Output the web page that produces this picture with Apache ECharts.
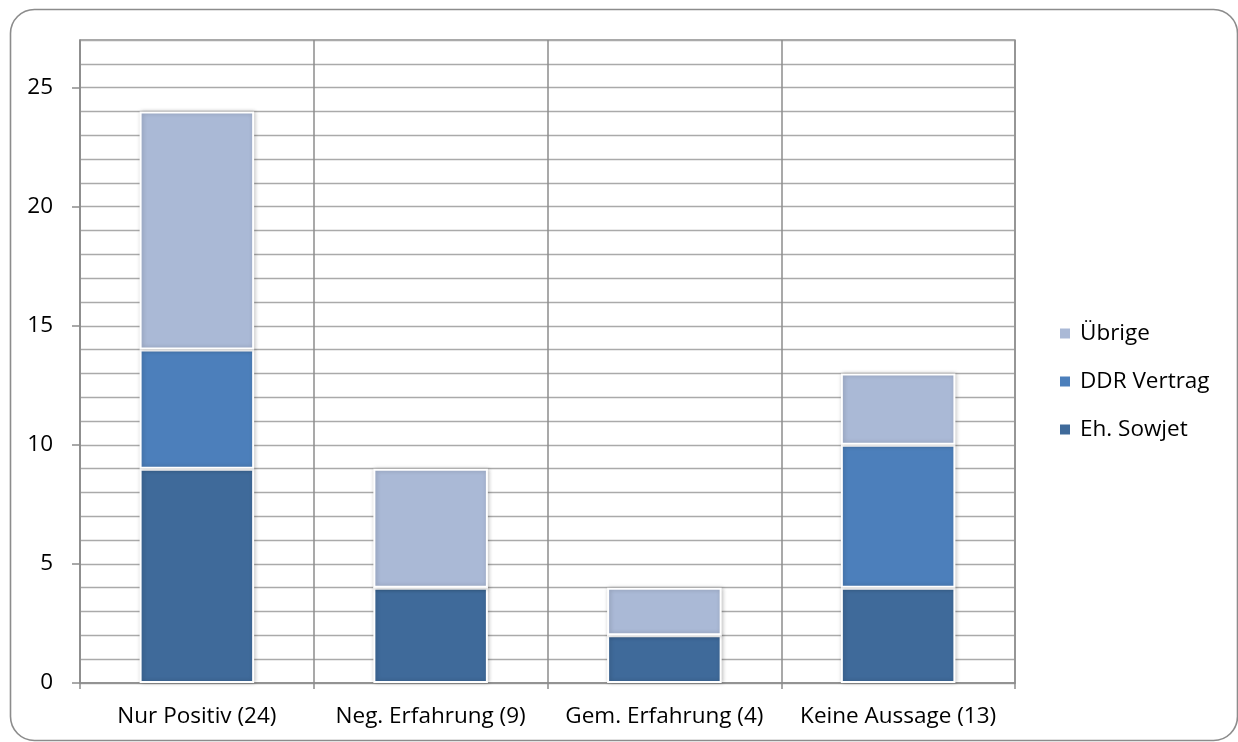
<!DOCTYPE html>
<html>
<head>
<meta charset="utf-8">
<script src="https://cdn.jsdelivr.net/npm/echarts@6/dist/echarts.min.js"></script>
<style>
  html, body { margin: 0; padding: 0; background: #fff; }
  #chart { width: 1238px; height: 742px; }
</style>
</head>
<body>
<div id="chart"></div>
<script>
// Categories and stacked counts per group
const categories = ['Nur Positiv (24)', 'Neg. Erfahrung (9)', 'Gem. Erfahrung (4)', 'Keine Aussage (13)'];
const ehSowjet   = [9, 4, 2, 4];
const ddrVertrag = [5, 0, 0, 6];
const uebrige    = [10, 5, 2, 3];
const yTicks     = [0, 5, 10, 15, 20, 25];

const FONT = 'Open Sans';
const FONT_SIZE = 22.5;
const chart = echarts.init(document.getElementById('chart'));

const barStyle = (color) => ({
  color: color,
  borderColor: '#ffffff',
  borderWidth: 2,
  shadowColor: 'rgba(0,0,0,0.22)',
  shadowBlur: 4,
  shadowOffsetX: 1,
  shadowOffsetY: 0
});

chart.setOption({
  animation: false,
  backgroundColor: '#ffffff',
  textStyle: { fontFamily: FONT },
  graphic: [{
    type: 'rect',
    shape: { x: 10.5, y: 9.5, width: 1227, height: 731, r: 24 },
    style: { fill: 'none', stroke: '#8c8c8c', lineWidth: 1.6 },
    silent: true,
    z: -10
  }],
  grid: {
    left: 80, right: 223, top: 40, bottom: 59,
    show: true, borderColor: '#8c8c8c', borderWidth: 1.3
  },
  legend: {
    orient: 'vertical',
    left: 1053, top: 317,
    itemWidth: 12, itemHeight: 12,
    itemGap: 25,
    icon: 'rect',
    data: ['Übrige', 'DDR Vertrag', 'Eh. Sowjet'],
    textStyle: { fontFamily: FONT, fontSize: FONT_SIZE, color: '#000', padding: [0, 0, 0, 4] }
  },
  xAxis: {
    type: 'category',
    data: categories,
    boundaryGap: true,
    axisLine: { lineStyle: { color: '#8c8c8c', width: 1.5 } },
    axisTick: { show: true, length: 6, interval: 0, lineStyle: { color: '#8c8c8c', width: 1.5 } },
    splitLine: { show: true, interval: 0, lineStyle: { color: '#8c8c8c', width: 1.5 } },
    axisLabel: { color: '#000', fontSize: FONT_SIZE, fontFamily: FONT, margin: 22, interval: 0 }
  },
  yAxis: [
    {
      // labelled axis: ticks and labels every 5
      type: 'value',
      min: 0, max: 27, interval: 1,
      axisLine: { show: true, lineStyle: { color: '#8c8c8c', width: 1.5 } },
      axisTick: { show: true, length: 8, customValues: yTicks, lineStyle: { color: '#8c8c8c', width: 1.5 } },
      axisLabel: { color: '#000', fontSize: FONT_SIZE, fontFamily: FONT, margin: 27, customValues: yTicks },
      splitLine: { show: false }
    },
    {
      // unit gridlines behind the bars
      type: 'value',
      position: 'left',
      min: 0, max: 27, interval: 1,
      axisLine: { show: false },
      axisTick: { show: false },
      axisLabel: { show: false },
      splitLine: { show: true, lineStyle: { color: '#aaaaaa', width: 1.3 } }
    }
  ],
  series: [
    { name: 'Eh. Sowjet',  type: 'bar', stack: 'total', barWidth: '49%', data: ehSowjet,   itemStyle: barStyle('#3f6a9a') },
    { name: 'DDR Vertrag', type: 'bar', stack: 'total', barWidth: '49%', data: ddrVertrag, itemStyle: barStyle('#4c7fbb') },
    { name: 'Übrige',      type: 'bar', stack: 'total', barWidth: '49%', data: uebrige,    itemStyle: barStyle('#aab9d6') }
  ]
});
</script>
</body>
</html>
